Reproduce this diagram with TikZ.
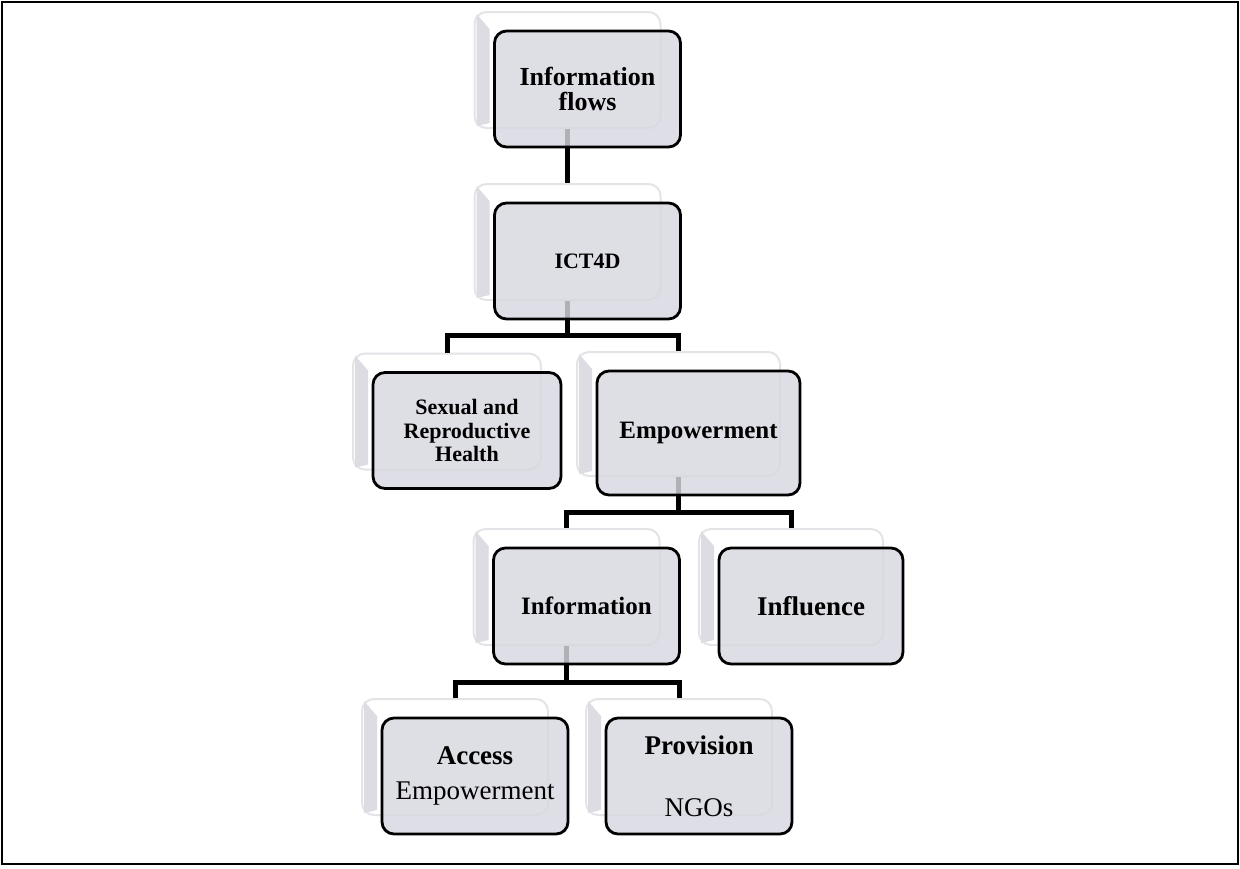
\documentclass[tikz,border=0pt]{standalone}
\usepackage{fontspec}
\setmainfont{Liberation Serif}
\usetikzlibrary{positioning}

\definecolor{boxfill}{RGB}{215,215,224}
\definecolor{backline}{RGB}{228,228,232}
\definecolor{bevel}{RGB}{220,220,226}

\begin{document}
\begin{tikzpicture}[
  x=0.5pt, y=-0.5pt,
  box/.style={draw, line width=1.4pt, rounded corners=6pt, fill=boxfill, fill opacity=0.82, text opacity=1, align=center, inner sep=0pt, minimum width=93pt, minimum height=58pt},
  back/.style={draw=backline, line width=1pt, rounded corners=6pt, fill=white, inner sep=0pt, minimum width=93pt, minimum height=58pt},
  link/.style={line width=2.5pt}
]
\useasboundingbox (0,0) rectangle (1240,868);
\draw[line width=1pt] (2,2) rectangle (1238,864);

% back layer
\node[back] (flowsbk) at (567.5,70) {};
\node[back] (ictbk) at (567.5,242) {};
\node[back, minimum width=94pt] (sexbk) at (447,411.5) {};
\node[back, minimum width=101.5pt, minimum height=62pt] (empbk) at (678.5,414) {};
\node[back] (infobk) at (566.5,587) {};
\node[back, minimum width=92pt] (inflbk) at (791,587) {};
\node[back] (accbk) at (455,757) {};
\node[back] (provbk) at (679,757) {};

\foreach \n in {flowsbk,ictbk,sexbk,empbk,infobk,inflbk,accbk,provbk}
  \fill[bevel] ([xshift=1.5pt,yshift=-1.5pt]\n.north west) -- ([xshift=8pt,yshift=-9pt]\n.north west)
    -- ([xshift=8pt,yshift=3pt]\n.south west) -- ([xshift=1.5pt,yshift=1.5pt]\n.south west) -- cycle;

% connectors
\coordinate (ictbar) at (567,335);
\coordinate (empbar) at (679,512);
\coordinate (infobar) at (567,682);

\draw[link] (flowsbk.south) -- (ictbk.north);
\draw[link] (ictbk.south) -- (ictbk.south |- ictbar);
\draw[link] (sexbk.north) |- (ictbar) -| (empbk.north);
\draw[link] (empbk.south) -- (empbk.south |- empbar);
\draw[link] (infobk.north) |- (empbar) -| (inflbk.north);
\draw[link] (infobk.south) -- (infobk.south |- infobar);
\draw[link] (accbk.north) |- (infobar) -| (provbk.north);

% front layer
\node[box, font=\bfseries\fontsize{13}{12.5}\selectfont] (flows) at (587.5,89) {Information\\flows};
\node[box, font=\bfseries\fontsize{11}{12}\selectfont] (ict) at (587.5,261) {ICT4D};
\node[box, minimum width=94pt, font=\bfseries\fontsize{11}{11.8}\selectfont] (sex) at (467,430.5) {Sexual and\\Reproductive\\Health};
\node[box, minimum width=101.5pt, minimum height=62pt, font=\bfseries\fontsize{12.5}{13}\selectfont] (emp) at (698.5,433) {Empowerment};
\node[box, font=\bfseries\fontsize{12.5}{13}\selectfont] (info) at (586.5,606) {Information};
\node[box, minimum width=92pt, font=\bfseries\fontsize{13.5}{14}\selectfont] (infl) at (811,606) {Influence};
\node[box, font=\fontsize{13.5}{17.5}\selectfont] (acc) at (475,776) {\textbf{Access}\\Empowerment};
\node[box, font=\fontsize{13.5}{17.5}\selectfont] (prov) at (699,776) {\textbf{Provision}\\[13.5pt]NGOs};
\end{tikzpicture}
\end{document}
